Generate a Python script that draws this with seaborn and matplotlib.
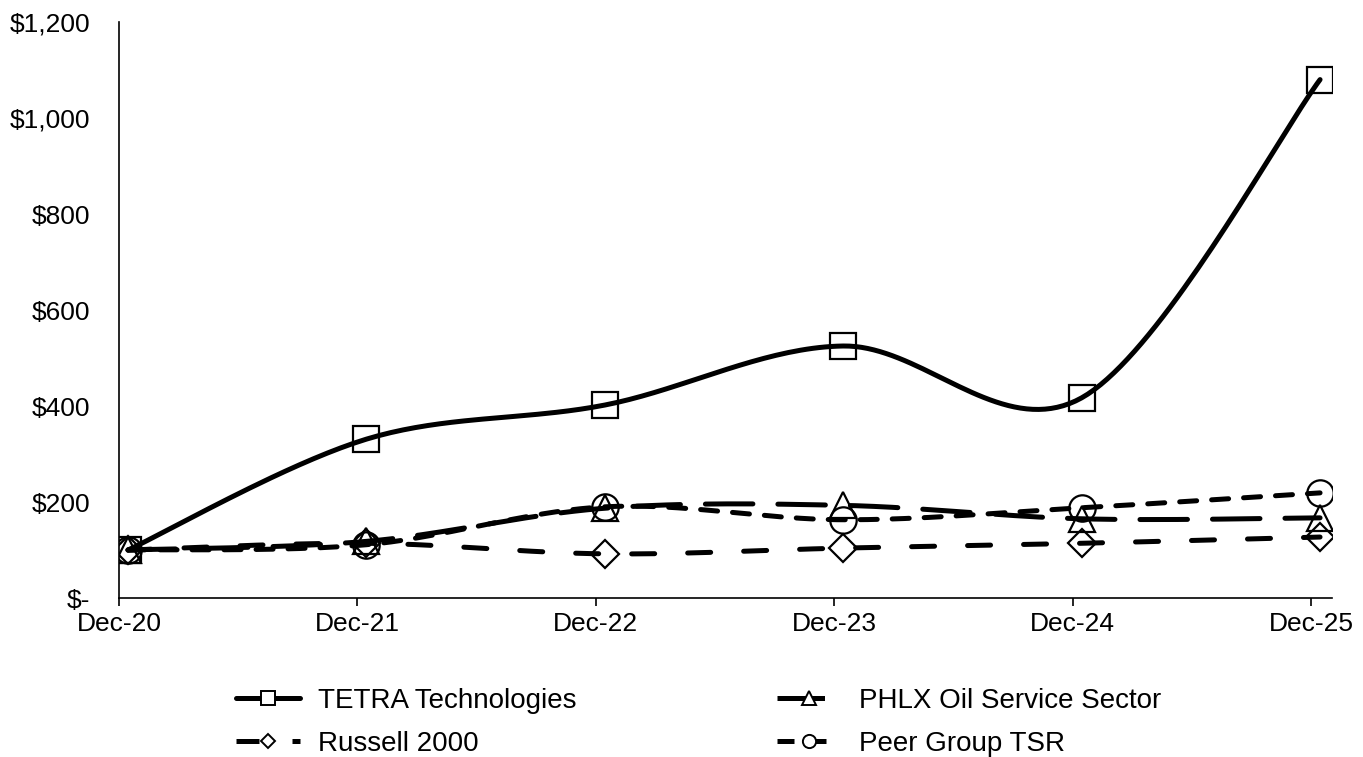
import numpy as np
import pandas as pd
import matplotlib
matplotlib.use("Agg")
import matplotlib.pyplot as plt
from matplotlib.lines import Line2D
from matplotlib.ticker import FuncFormatter
import seaborn as sns

categories = ["Dec-20", "Dec-21", "Dec-22", "Dec-23", "Dec-24", "Dec-25"]
tetra = [100, 331, 402, 525, 417, 1080]
phlx = [100, 118, 187, 193, 165, 167]
russell = [100, 114, 92, 104, 114, 127]
peer = [100, 111, 190, 163, 188, 219]
series_names = ["TETRA Technologies", "PHLX Oil Service Sector", "Russell 2000", "Peer Group TSR"]
y_ticks = [0, 200, 400, 600, 800, 1000, 1200]

sns.set_theme(style="white")
plt.rcParams['font.family'] = ['Liberation Sans', 'DejaVu Sans']

fig = plt.figure(figsize=(13.63, 7.57), dpi=100)
ax = fig.add_axes([119/1363, 1-598/757, 1213/1363, 576/757])

offset = 0.038  # data points sit slightly right of the tick marks


def smooth(xs, ys, n=40):
    # Excel-like smoothed line (Bezier with 1/6 control points)
    P = np.column_stack([xs, ys]).astype(float)
    P = np.vstack([P[0], P, P[-1]])
    out = []
    for i in range(1, len(P) - 2):
        p0, p1, p2, p3 = P[i-1], P[i], P[i+1], P[i+2]
        c1 = p1 + (p2 - p0) / 6
        c2 = p2 - (p3 - p1) / 6
        t = np.linspace(0, 1, n)[:, None]
        b = (1-t)**3*p1 + 3*(1-t)**2*t*c1 + 3*(1-t)*t**2*c2 + t**3*p2
        out.append(b if i == 1 else b[1:])
    return np.vstack(out)


styles = {
    "TETRA Technologies": dict(values=tetra, marker="s", ms=19, dash=None),
    "PHLX Oil Service Sector": dict(values=phlx, marker="^", ms=19, dash=(9.5, 5.0)),
    "Russell 2000": dict(values=russell, marker="D", ms=14, dash=(4.6, 6.6)),
    "Peer Group TSR": dict(values=peer, marker="o", ms=19, dash=(3.4, 3.0)),
}
lw = 3.6
xs = np.arange(len(categories)) + offset

for name in series_names:
    st = styles[name]
    curve = smooth(xs, st["values"])
    df = pd.DataFrame({"x": curve[:, 0], "y": curve[:, 1]})
    sns.lineplot(data=df, x="x", y="y", ax=ax, color="black", lw=lw, sort=False,
                 estimator=None, legend=False)
    line = ax.lines[-1]
    if st["dash"] is not None:
        line.set_dashes(st["dash"])
        line.set_dash_capstyle("round")
    else:
        line.set_solid_capstyle("round")

for name in series_names:
    st = styles[name]
    ax.plot(xs, st["values"], ls="none", marker=st["marker"], ms=st["ms"],
            mfc="none", mec="black", mew=1.6, zorder=3)

ax.set_xlim(0, 1213/238.4)
ax.set_ylim(0, 1200)
ax.set_xticks(range(len(categories)))
ax.set_xticklabels(categories)
ax.set_yticks(y_ticks)
ax.yaxis.set_major_formatter(FuncFormatter(lambda v, p: "$-" if v == 0 else f"${v:,.0f}"))
ax.set_xlabel("")
ax.set_ylabel("")
for s in ["top", "right"]:
    ax.spines[s].set_visible(False)
for s in ["left", "bottom"]:
    ax.spines[s].set_color("black")
    ax.spines[s].set_linewidth(1.2)
ax.tick_params(axis="x", bottom=True, direction="out", length=6, width=1.2, color="black",
               labelsize=19, pad=4, labelcolor="black")
ax.tick_params(axis="y", left=False, labelsize=19, pad=15, labelcolor="black")
ax.grid(False)

handles = []
order = ["TETRA Technologies", "Russell 2000", "PHLX Oil Service Sector", "Peer Group TSR"]
for name in order:
    st = styles[name]
    h = Line2D([], [], color="black", lw=lw, marker=st["marker"],
               ms=st["ms"] * 0.5, mfc="white", mec="black", mew=1.4)
    if st["dash"] is not None:
        h.set_dashes(st["dash"])
    handles.append(h)
fig.legend(handles, order, loc="center", bbox_to_anchor=(0.5125, 0.046),
           ncol=2, frameon=False, fontsize=20, handlelength=2.3, handletextpad=0.65,
           columnspacing=7.2, labelspacing=0.62, labelcolor="black")

fig.savefig("out.png", dpi=100)
